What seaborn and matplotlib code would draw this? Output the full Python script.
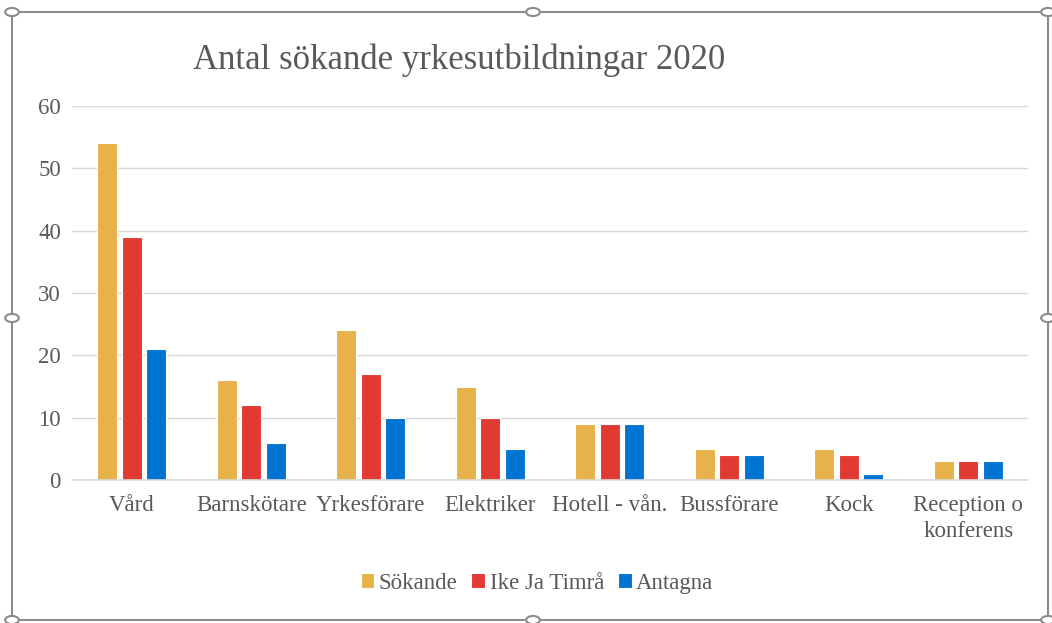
import matplotlib
matplotlib.use("Agg")
import matplotlib.pyplot as plt
import pandas as pd
import seaborn as sns
from matplotlib.patches import Rectangle, Circle

# Data
categories = ["Vård", "Barnskötare", "Yrkesförare", "Elektriker",
              "Hotell - vån.", "Bussförare", "Kock", "Reception o\nkonferens"]
sokande = [54, 16, 24, 15, 9, 5, 5, 3]
ike_ja = [39, 12, 17, 10, 9, 4, 4, 3]
antagna = [21, 6, 10, 5, 9, 4, 1, 3]
series = ["Sökande", "Ike Ja Timrå", "Antagna"]
colors = ["#E8B24A", "#E03A32", "#0074D0"]
yticks = [0, 10, 20, 30, 40, 50, 60]

df = pd.DataFrame({"cat": categories * 3,
                   "serie": [series[0]] * 8 + [series[1]] * 8 + [series[2]] * 8,
                   "value": sokande + ike_ja + antagna})

sns.set_style("white")
plt.rcParams["font.family"] = ["Liberation Serif", "DejaVu Serif"]
text_col = "#595959"

W, H = 1052, 623
fig = plt.figure(figsize=(W / 100, H / 100), dpi=100)
ax = fig.add_axes([72 / W, (H - 480) / H, 956 / W, 374 / H])

sns.barplot(data=df, x="cat", y="value", hue="serie", palette=colors,
            saturation=1, width=0.61, gap=0.18, edgecolor="white",
            linewidth=0.8, ax=ax)

ax.set_ylim(0, 60)
ax.set_yticks(yticks)
ax.set_xlim(-0.5, len(categories) - 0.5)
ax.yaxis.grid(True, color="#d9d9d9", linewidth=1)
ax.set_axisbelow(True)
for s in ["top", "right", "left"]:
    ax.spines[s].set_visible(False)
ax.spines["bottom"].set_color("#d9d9d9")
ax.spines["bottom"].set_linewidth(1.2)
ax.tick_params(axis="both", length=0, labelsize=16.5, colors=text_col)
ax.tick_params(axis="y", pad=8)
ax.tick_params(axis="x", pad=11)
ax.set_xlabel("")
ax.set_ylabel("")
for lbl in ax.get_xticklabels():
    lbl.set_linespacing(1.3)

# legend below the plot
ax.legend(loc="center", bbox_to_anchor=(0.4864, -0.276), ncol=3, frameon=False,
          fontsize=16.5, labelcolor=text_col, handlelength=0.6, handleheight=0.6,
          handletextpad=0.2, columnspacing=0.6)

fig.text(459 / W, (H - 60) / H, "Antal sökande yrkesutbildningar 2020",
         ha="center", va="center", fontsize=25, color=text_col)

# selection frame with handles
fig.patches.append(Rectangle((12 / W, 3 / H), 1036 / W, 608 / H,
                             transform=fig.transFigure, fill=False,
                             edgecolor="#8c8c8c", linewidth=1.5))
for px, py in [(12, 12), (533, 12), (1048, 12), (12, 318), (1048, 318),
               (12, 620), (533, 620), (1048, 620)]:
    fig.patches.append(Circle((px / W, (H - py) / H), 0.0065,
                              transform=fig.transFigure, facecolor="white",
                              edgecolor="#8c8c8c", linewidth=1.5))

fig.savefig("out.png", dpi=100)
